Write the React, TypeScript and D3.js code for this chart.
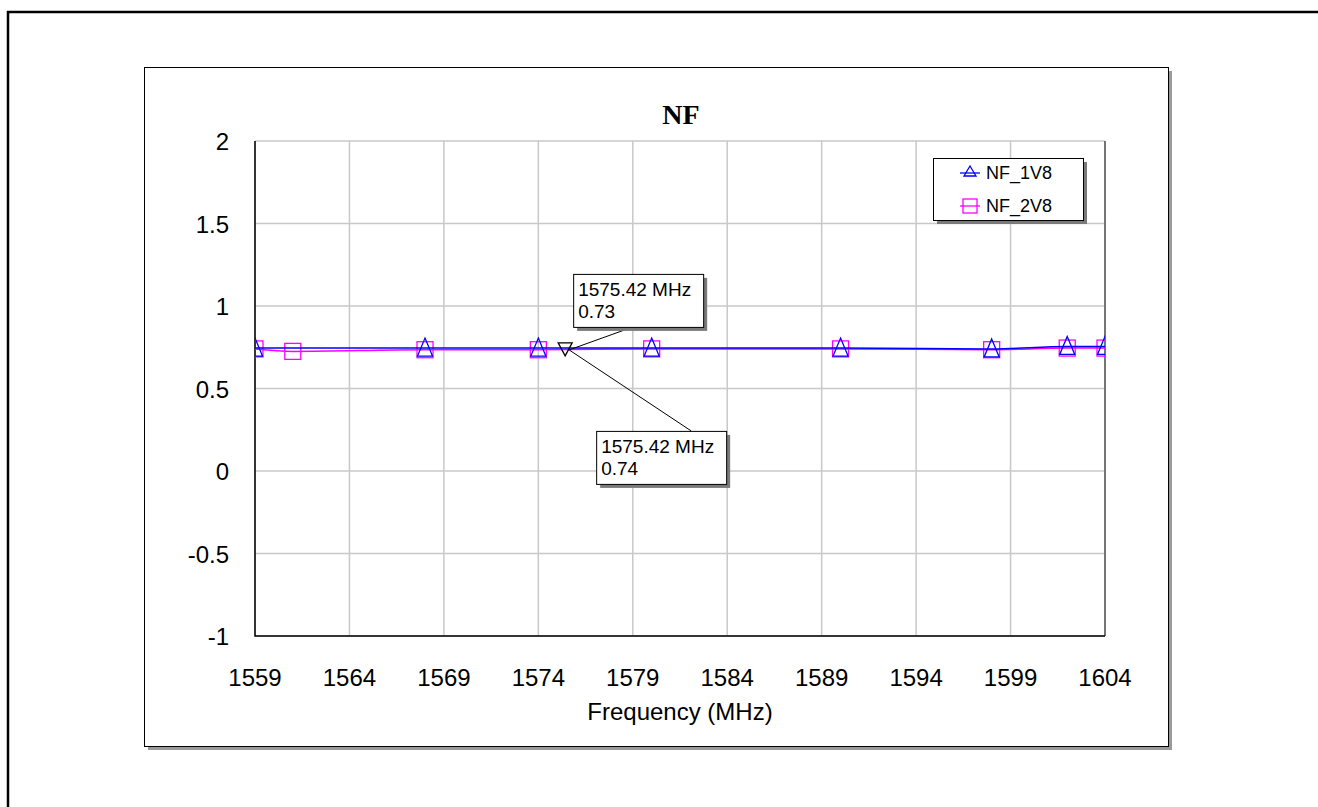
import React from 'react';
import * as d3 from 'd3';

// frequency points (MHz) and noise figure (dB)
const freq1V8 = [1559, 1568, 1574, 1580, 1590, 1598, 1602, 1604];
const nf1V8 = [0.745, 0.745, 0.745, 0.745, 0.745, 0.74, 0.755, 0.755];
const freq2V8 = [1559, 1561, 1568, 1574, 1580, 1590, 1598, 1602, 1604];
const nf2V8 = [0.74, 0.725, 0.735, 0.735, 0.74, 0.74, 0.735, 0.745, 0.745];

const xTicks = [1559, 1564, 1569, 1574, 1579, 1584, 1589, 1594, 1599, 1604];
const yTicks = [-1, -0.5, 0, 0.5, 1, 1.5, 2];

const markerFreq = 1575.42;
const markerLabels = [
    { series: 'NF_2V8', value: 0.73, dx: 8, dy: -75, lx: 60 },
    { series: 'NF_1V8', value: 0.74, dx: 31, dy: 82, lx: 95 }
];

const series = [
    { name: 'NF_1V8', x: freq1V8, y: nf1V8, color: '#0000ff', shape: 'triangle' },
    { name: 'NF_2V8', x: freq2V8, y: nf2V8, color: '#ff00ff', shape: 'square' }
];

const W = 1318;
const H = 807;
const plot = { left: 255, top: 141, right: 1105, bottom: 636 };
const font = 'Arial, "Liberation Sans", sans-serif';

const Marker = ({ shape, color, x, y }) => {
    if (shape === 'square') {
        return <rect x={x - 8} y={y - 8} width={16} height={16} fill="none" stroke={color} strokeWidth={1.3} />;
    }
    return <path d={`M${x},${y - 10}L${x + 7.5},${y + 8}L${x - 7.5},${y + 8}Z`} fill="none" stroke={color} strokeWidth={1.3} />;
};

const App = () => {
    const xScale = d3.scaleLinear().domain([1559, 1604]).range([plot.left, plot.right]);
    const yScale = d3.scaleLinear().domain([-1, 2]).range([plot.bottom, plot.top]);
    const mx = xScale(markerFreq);
    const my = yScale(0.74);

    return (
        <div style={{ position: 'absolute', left: 0, top: 0 }}>
            <svg width={W} height={H} style={{ display: 'block' }} fontFamily={font}>
                <defs>
                    <clipPath id="plotClip">
                        <rect x={plot.left} y={plot.top} width={plot.right - plot.left} height={plot.bottom - plot.top} />
                    </clipPath>
                </defs>
                <rect width={W} height={H} fill="#fff" />
                {/* outer frame: only top and left edges visible */}
                <path d={`M8,${H}V12H${W}`} fill="none" stroke="#000" strokeWidth={2.5} />

                {/* chart panel with shadow */}
                <rect x={148} y={71} width={1024} height={679} fill="#9a9a9a" />
                <rect x={144.5} y={67.5} width={1024} height={679} fill="#fff" stroke="#000" strokeWidth={1} />

                <text x={681} y={124} textAnchor="middle" fontFamily='"Times New Roman", "Liberation Serif", serif'
                    fontWeight="bold" fontSize={28}>NF</text>

                {/* grid */}
                {xTicks.map(t => (
                    <line key={'gx' + t} x1={xScale(t)} x2={xScale(t)} y1={plot.top} y2={plot.bottom} stroke="#c8c8c8" strokeWidth={1.5} />
                ))}
                {yTicks.map(t => (
                    <line key={'gy' + t} x1={plot.left} x2={plot.right} y1={yScale(t)} y2={yScale(t)} stroke="#c8c8c8" strokeWidth={1.5} />
                ))}
                <line x1={plot.right} x2={plot.right} y1={plot.top} y2={plot.bottom} stroke="#555" strokeWidth={1.5} />
                <path d={`M${plot.left},${plot.top}V${plot.bottom}H${plot.right}`} fill="none" stroke="#000" strokeWidth={1.5} />

                {/* tick labels */}
                {yTicks.map(t => (
                    <text key={'ty' + t} x={229} y={yScale(t) + 9} textAnchor="end" fontSize={24}>{t}</text>
                ))}
                {xTicks.map(t => (
                    <text key={'tx' + t} x={xScale(t)} y={686} textAnchor="middle" fontSize={24}>{t}</text>
                ))}
                <text x={680} y={720} textAnchor="middle" fontSize={24}>Frequency (MHz)</text>

                {/* series */}
                <g clipPath="url(#plotClip)">
                    {series.slice().reverse().map(s => {
                        const pts = s.x.map((f, i) => [xScale(f), yScale(s.y[i])]);
                        const line = d3.line().curve(d3.curveMonotoneX);
                        return (
                            <g key={s.name}>
                                <path d={line(pts)} fill="none" stroke={s.color} strokeWidth={1.5} />
                                {pts.map((p, i) => <Marker key={i} shape={s.shape} color={s.color} x={p[0]} y={p[1]} />)}
                            </g>
                        );
                    })}
                </g>

                {/* marker at 1575.42 MHz */}
                {markerLabels.map(m => {
                    const bx = mx + m.dx;
                    const by = my + m.dy;
                    const bh = 53;
                    const bw = 130;
                    const anchorY = m.dy < 0 ? by + bh : by;
                    return (
                        <g key={m.series}>
                            <line x1={bx + m.lx} y1={anchorY} x2={mx + 4} y2={my + 1} stroke="#000" strokeWidth={1} />
                            <rect x={bx + 4} y={by + 4} width={bw} height={bh} fill="#7a7a7a" />
                            <rect x={bx + 0.5} y={by + 0.5} width={bw} height={bh} fill="#fff" stroke="#000" strokeWidth={1} />
                            <text x={bx + 5} y={by + 22} fontSize={19}>{markerFreq} MHz</text>
                            <text x={bx + 5} y={by + 44} fontSize={19}>{m.value}</text>
                        </g>
                    );
                })}
                <path d={`M${mx - 7},${my - 6}L${mx + 7},${my - 6}L${mx},${my + 7}Z`} fill="none" stroke="#000" strokeWidth={1.3} />

                {/* legend */}
                <rect x={937} y={162} width={150} height={62} fill="#7a7a7a" />
                <rect x={933.5} y={158.5} width={150} height={62} fill="#fff" stroke="#000" strokeWidth={1} />
                {series.map((s, i) => (
                    <g key={'lg' + s.name} transform={`translate(0,${173 + i * 33})`}>
                        <line x1={960} x2={980} y1={0} y2={0} stroke={s.color} strokeWidth={1.3} />
                        {s.shape === 'square'
                            ? <rect x={963} y={-7} width={14} height={14} fill="none" stroke={s.color} strokeWidth={1.3} />
                            : <path d="M970,-7L976,3L964,3Z" fill="none" stroke={s.color} strokeWidth={1.3} />}
                        <text x={986} y={6} fontSize={18}>{s.name}</text>
                    </g>
                ))}
            </svg>
        </div>
    );
};

export default App;
